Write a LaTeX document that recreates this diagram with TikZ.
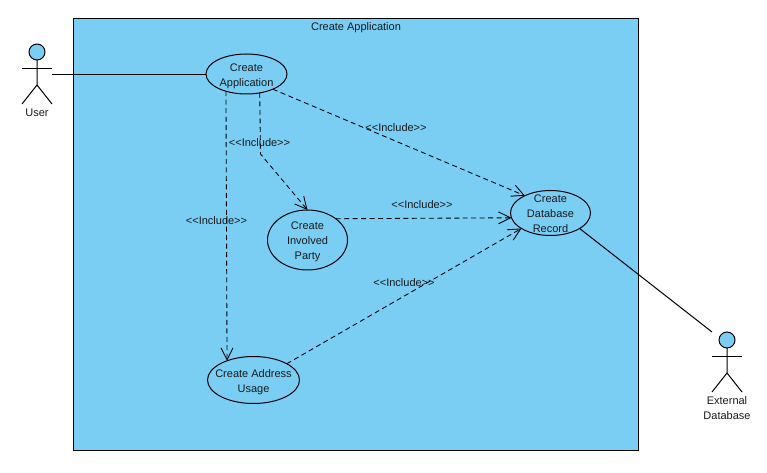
\documentclass[tikz,border=0pt]{standalone}
\usepackage{fontspec}
\setmainfont{Liberation Sans}
\usetikzlibrary{arrows.meta,shapes.geometric}
\definecolor{ucblue}{HTML}{7ACEF4}
\definecolor{uctext}{HTML}{1A1A1A}

\tikzset{
	usecase/.style={ellipse, draw, fill=ucblue, inner sep=0pt, outer sep=0pt},
	boundary/.style={rectangle, draw, fill=ucblue, inner sep=0pt, outer sep=0pt},
	actorbox/.style={rectangle, inner sep=0pt, outer sep=0pt, minimum width=22.5pt, minimum height=45pt},
	actorhead/.style={circle, draw, fill=ucblue, inner sep=0pt, outer sep=0pt, minimum size=12pt},
	include/.style={->, dashed, dash pattern=on 3.75pt off 2.6pt, line width=0.65pt},
	lbl/.style={inner sep=0pt, align=center},
	uclbl/.style 2 args={label={[lbl, yshift=#1]center:{#2}}}
}

% actor: name, x, y of the box centre, label
\newcommand{\actorfig}[4]{
	\node [actorbox] (#1) at (#2,#3) {};
	\node [actorhead] (#1head) at (#2,#3-22) {};
	\draw (#1head.south) -- (#2,#3+11) -- (#1.south west);
	\draw (#2,#3+11) -- (#1.south east);
	\draw (#1.west |- #1head.south) ++(0,8.5) -- ++(30,0);
	\node [lbl, anchor=north, yshift=-3.2pt] (#1label) at (#1.south) {#4};
}

\begin{document}
\begin{tikzpicture}[x=0.75pt, y=-0.75pt, >={Straight Barb[length=9pt,width=9pt]},
	line width=0.75pt, text=uctext, font=\fontsize{8.25}{11.25}\selectfont]
	\useasboundingbox (0,0) rectangle (767,473);

	% System boundary
	\node [boundary, minimum width=423.75pt, minimum height=324pt] (sys) at (355.75,234.5) {};
	\node [lbl] (systitle) at (356,27.5) {Create Application};

	% Use cases
	\node [usecase, minimum width=60.75pt, minimum height=30pt, uclbl={-1.7pt}{Create\\Application}] (app) at (246.5,74) {};
	\node [usecase, minimum width=60pt, minimum height=33.75pt, uclbl={-0.3pt}{Create\\Database\\Record}] (record) at (550.5,213) {};
	\node [usecase, minimum width=60pt, minimum height=45pt, uclbl={-1pt}{Create\\Involved\\Party}] (party) at (307.5,240) {};
	\node [usecase, minimum width=69pt, minimum height=35.25pt, uclbl={-1.7pt}{Create Address\\Usage}] (address) at (253.5,380) {};

	% Actors
	\actorfig{user}{37}{74}{User}
	\actorfig{extdb}{727}{362}{External\\Database}

	% Paths
	\draw ([yshift=-0.4pt]user.east |- app.west) -- ([yshift=-0.4pt]app.west);
	\draw (record.332.3) -- (extdb.north west);

	\coordinate (bendpt) at (260.5,154);
	\draw [include] (app.220) -- (address.144.9);
	\draw [include] (app.305.6) -- (bendpt) -- (party.north);
	\draw [include] (app.330) -- (record.146.3);
	\draw [include] (party.37) -- (record.187.2);
	\draw [include] (address.26.2) -- (record.208.5);

	% Labels
	\node [lbl] (inclparty)   at (259.5,143) {<{}<Include>{}>};
	\node [lbl] (incladdress) at (216.5,220.5) {<{}<Include>{}>};
	\node [lbl] (inclapp)     at (396,128) {<{}<Include>{}>};
	\node [lbl] (inclrecord)  at (422,205) {<{}<Include>{}>};
	\node [lbl] (inclusage)   at (404,283) {<{}<Include>{}>};
\end{tikzpicture}
\end{document}
